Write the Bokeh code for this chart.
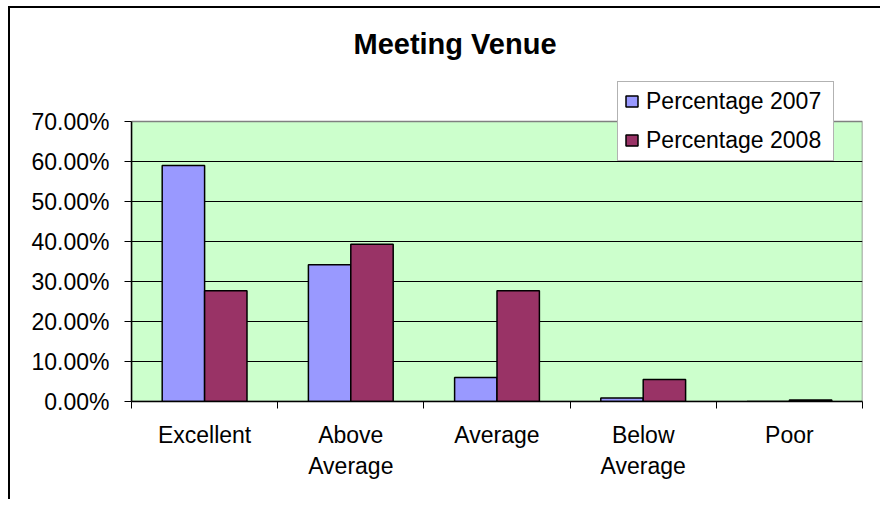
from bokeh.plotting import figure
from bokeh.models import ColumnDataSource, Range1d, FixedTicker, NumeralTickFormatter, Legend, Label
from bokeh.transform import dodge
from bokeh.embed import file_html
from bokeh.resources import INLINE

# ---- data ----
categories = ["Excellent", "Above\nAverage", "Average", "Below\nAverage", "Poor"]
pct_2007 = [0.590, 0.342, 0.060, 0.009, 0.000]
pct_2008 = [0.277, 0.393, 0.277, 0.055, 0.004]
y_ticks = [0.0, 0.1, 0.2, 0.3, 0.4, 0.5, 0.6, 0.7]
series_names = ["Percentage 2007", "Percentage 2008"]
title_text = "Meeting Venue"

FONT = "Liberation Sans"

# ---- layout (pixels) ----
W, H = 880, 499
FRAME_LEFT, FRAME_RIGHT, FRAME_BOTTOM = 131, 862, 401
AREA_TOP = 121                      # top of the green plot area
# frame spans the whole top of the canvas so that title and legend are not clipped
y_end = y_ticks[-1] * FRAME_BOTTOM / (FRAME_BOTTOM - AREA_TOP)

xs = [i + 0.5 for i in range(len(categories))]
src = ColumnDataSource(dict(x=xs, y2007=pct_2007, y2008=pct_2008))

p = figure(width=W, height=H, title=None,
           x_range=Range1d(0, len(categories)), y_range=Range1d(y_ticks[0], y_end),
           output_backend="svg", toolbar_location=None,
           min_border_left=FRAME_LEFT, min_border_right=W - FRAME_RIGHT,
           min_border_top=0, min_border_bottom=H - FRAME_BOTTOM,
           background_fill_color=None, border_fill_color=None,
           outline_line_color=None,
           styles={"background": "linear-gradient(#000,#000) 8px 6px / 2px calc(100% - 6px) no-repeat, "
                                 "linear-gradient(#000,#000) 8px 6px / calc(100% - 8px) 2px no-repeat"})

# green plot area with grey outline
p.quad(left=[0], right=[len(categories)], bottom=[y_ticks[0]], top=[y_ticks[-1]],
       fill_color="#CCFFCC", line_color="#808080", line_width=1.5, level="image")

r1 = p.vbar(x=dodge("x", -0.145), top="y2007", width=0.29, source=src,
            fill_color="#9999FF", line_color="black", line_width=1.5)
r2 = p.vbar(x=dodge("x", 0.145), top="y2008", width=0.29, source=src,
            fill_color="#993366", line_color="black", line_width=1.5)

# x axis: labels at category centres, tick marks at category boundaries
xa = p.xaxis[0]
xa.ticker = FixedTicker(ticks=xs, minor_ticks=list(range(len(categories) + 1)))
xa.major_label_overrides = {x: c for x, c in zip(xs, categories)}
xa.major_tick_line_color = None
xa.minor_tick_line_color = "black"
xa.minor_tick_out = 7
xa.minor_tick_in = 0
xa.axis_line_color = "black"
xa.axis_line_width = 1.5
xa.major_label_text_font = FONT
xa.major_label_text_font_size = "23px"
xa.major_label_text_color = "black"
xa.major_label_standoff = 13

ya = p.yaxis[0]
ya.ticker = FixedTicker(ticks=y_ticks)
ya.bounds = (y_ticks[0], y_ticks[-1])
ya.formatter = NumeralTickFormatter(format="0.00%")
ya.minor_tick_line_color = None
ya.major_tick_out = 7
ya.major_tick_in = 0
ya.major_tick_line_color = "black"
ya.axis_line_color = "black"
ya.axis_line_width = 1.5
ya.major_label_text_font = FONT
ya.major_label_text_font_size = "23px"
ya.major_label_text_color = "black"
ya.major_label_standoff = 15

p.xgrid.grid_line_color = None
p.ygrid.ticker = FixedTicker(ticks=y_ticks[1:-1])
p.ygrid.grid_line_color = "black"
p.ygrid.grid_line_width = 1

legend = Legend(items=[(series_names[0], [r1]), (series_names[1], [r2])],
                location=(617 - FRAME_LEFT, FRAME_BOTTOM - 160.5), margin=0,
                label_text_font=FONT, label_text_font_size="23px", label_text_color="black",
                glyph_width=15, glyph_height=14, label_standoff=7, padding=6, spacing=12,
                label_height=24, label_width=181,
                border_line_color="#666666", border_line_width=1,
                background_fill_color="white", background_fill_alpha=1)
p.add_layout(legend)

p.add_layout(Label(x=454.5 - FRAME_LEFT, y=FRAME_BOTTOM - 43.0, x_units="screen", y_units="screen",
                   text=title_text, text_font=FONT, text_font_size="29px", text_font_style="bold",
                   text_align="center", text_baseline="alphabetic", text_color="black"))

open("out.html", "w").write(file_html(p, INLINE))
